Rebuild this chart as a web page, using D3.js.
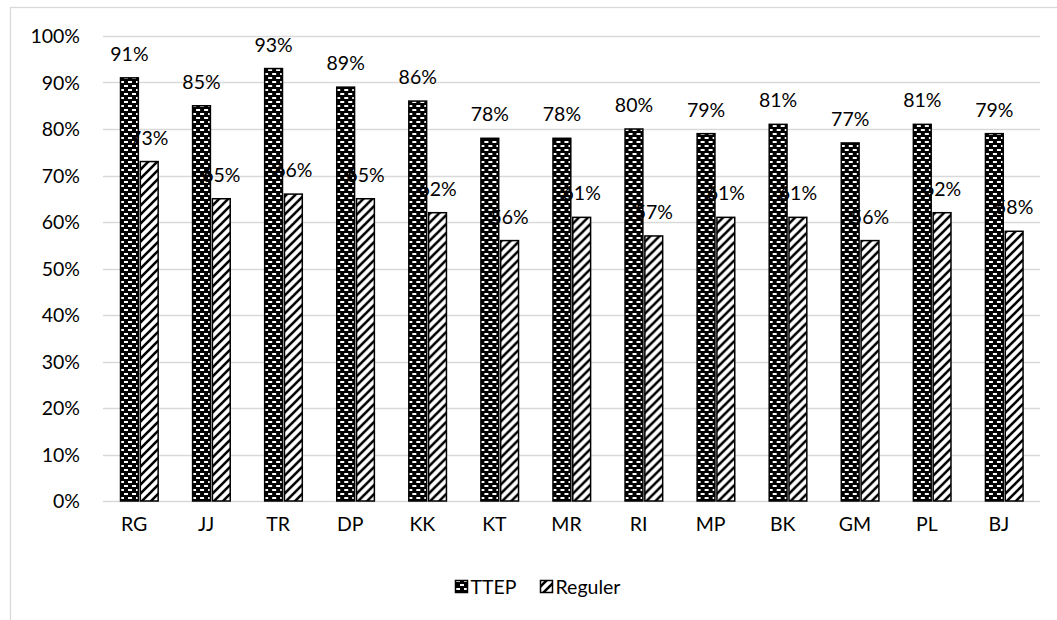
<!DOCTYPE html>
<html>
<head>
<meta charset="utf-8">
<script src="https://cdn.jsdelivr.net/npm/d3@7"></script>
<style>
  html, body { margin: 0; padding: 0; background: #fff; }
  svg { display: block; }
  text { font-family: Lato, "Open Sans", sans-serif; fill: #000; }
</style>
</head>
<body>
<svg id="chart" width="1057" height="620"></svg>
<script>
// Site codes along the x axis
const categories = ["RG", "JJ", "TR", "DP", "KK", "KT", "MR", "RI", "MP", "BK", "GM", "PL", "BJ"];
// Share per site (percent)
const ttepValues = [91, 85, 93, 89, 86, 78, 78, 80, 79, 81, 77, 81, 79];
const regulerValues = [73, 65, 66, 65, 62, 56, 61, 57, 61, 61, 56, 62, 58];
const seriesNames = ["TTEP", "Reguler"];
const yTicks = [0, 10, 20, 30, 40, 50, 60, 70, 80, 90, 100];

const rows = categories.map((c, i) => ({ cat: c, TTEP: ttepValues[i], Reguler: regulerValues[i] }));

const FONT_SIZE = "19.5px";
const svg = d3.select("#chart");

// Patterns: black with staggered white dashes, and white with "/" stripes
const defs = svg.append("defs");
const pBrick = defs.append("pattern")
  .attr("id", "pat-ttep").attr("patternUnits", "userSpaceOnUse")
  .attr("width", 8).attr("height", 8);
pBrick.append("rect").attr("width", 8).attr("height", 8).attr("fill", "#000");
pBrick.append("rect").attr("x", 1).attr("y", 1).attr("width", 4).attr("height", 2).attr("fill", "#fff");
pBrick.append("rect").attr("x", 5).attr("y", 5).attr("width", 3).attr("height", 2).attr("fill", "#fff");
pBrick.append("rect").attr("x", 0).attr("y", 5).attr("width", 1).attr("height", 2).attr("fill", "#fff");

const pDiag = defs.append("pattern")
  .attr("id", "pat-reg").attr("patternUnits", "userSpaceOnUse")
  .attr("width", 9).attr("height", 9);
pDiag.append("rect").attr("width", 9).attr("height", 9).attr("fill", "#fff");
pDiag.append("path")
  .attr("d", "M-2,2 L2,-2 M0,9 L9,0 M7,11 L11,7")
  .attr("stroke", "#000").attr("stroke-width", 2.6);

const fills = { TTEP: "url(#pat-ttep)", Reguler: "url(#pat-reg)" };

// Chart frame
svg.append("rect")
  .attr("x", 10.5).attr("y", 7.5).attr("width", 1200).attr("height", 800)
  .attr("fill", "none").attr("stroke", "#d9d9d9").attr("stroke-width", 1.3);

const plot = { left: 103, right: 1040, top: 36, bottom: 501 };

const x = d3.scaleBand().domain(categories).range([plot.left, plot.right]).padding(0);
const xs = d3.scaleBand().domain(seriesNames)
  .range([x.bandwidth() * 0.243, x.bandwidth() * 0.765]).paddingInner(0.1);
const y = d3.scaleLinear().domain([0, 100]).range([plot.bottom, plot.top]);

// Gridlines
svg.append("g").selectAll("line").data(yTicks).join("line")
  .attr("x1", plot.left).attr("x2", plot.right)
  .attr("y1", d => Math.round(y(d)) + 0.5).attr("y2", d => Math.round(y(d)) + 0.5)
  .attr("stroke", "#d9d9d9").attr("stroke-width", 1.3);

// Y axis labels
const yAxis = d3.axisLeft(y).tickValues(yTicks).tickFormat(d => d + "%").tickSize(0).tickPadding(0);
const gy = svg.append("g").attr("transform", `translate(80,0)`).call(yAxis);
gy.select(".domain").remove();
gy.selectAll("text").style("font-family", "Lato, sans-serif").style("font-size", FONT_SIZE).attr("dy", "0.34em");

// X axis labels
const xAxis = d3.axisBottom(x).tickSize(0).tickPadding(0);
const gx = svg.append("g").attr("transform", `translate(0,${plot.bottom})`).call(xAxis);
gx.select(".domain").remove();
gx.selectAll("text").style("font-family", "Lato, sans-serif").style("font-size", FONT_SIZE)
  .attr("dy", "0").attr("y", 30).attr("dx", -5);

// Bars
const groups = svg.append("g").selectAll("g").data(rows).join("g")
  .attr("transform", d => `translate(${x(d.cat)},0)`);

groups.selectAll("rect").data(d => seriesNames.map(s => ({ s, v: d[s] }))).join("rect")
  .attr("x", d => xs(d.s))
  .attr("y", d => y(d.v))
  .attr("width", xs.bandwidth())
  .attr("height", d => y(0) - y(d.v))
  .attr("fill", d => fills[d.s])
  .attr("stroke", "#000").attr("stroke-width", 1.5);

// Value labels
groups.selectAll("text.val").data(d => seriesNames.map(s => ({ s, v: d[s] }))).join("text")
  .attr("class", "val")
  .attr("x", d => xs(d.s) + xs.bandwidth() / 2)
  .attr("y", d => y(d.v) - 17)
  .attr("text-anchor", "middle")
  .style("font-size", FONT_SIZE)
  .text(d => d.v + "%");

// Legend
const legend = svg.append("g").attr("transform", "translate(0,587)");
const legendItems = [{ s: "TTEP", x: 455 }, { s: "Reguler", x: 540 }];
const li = legend.selectAll("g").data(legendItems).join("g")
  .attr("transform", d => `translate(${d.x},0)`);
li.append("rect").attr("x", 0.5).attr("y", -6.5).attr("width", 12).attr("height", 12)
  .attr("fill", d => fills[d.s]).attr("stroke", "#000").attr("stroke-width", 1.5);
li.append("text").attr("x", 15.5).attr("y", 0).attr("dy", "0.35em")
  .style("font-size", FONT_SIZE).text(d => d.s);
</script>
</body>
</html>
